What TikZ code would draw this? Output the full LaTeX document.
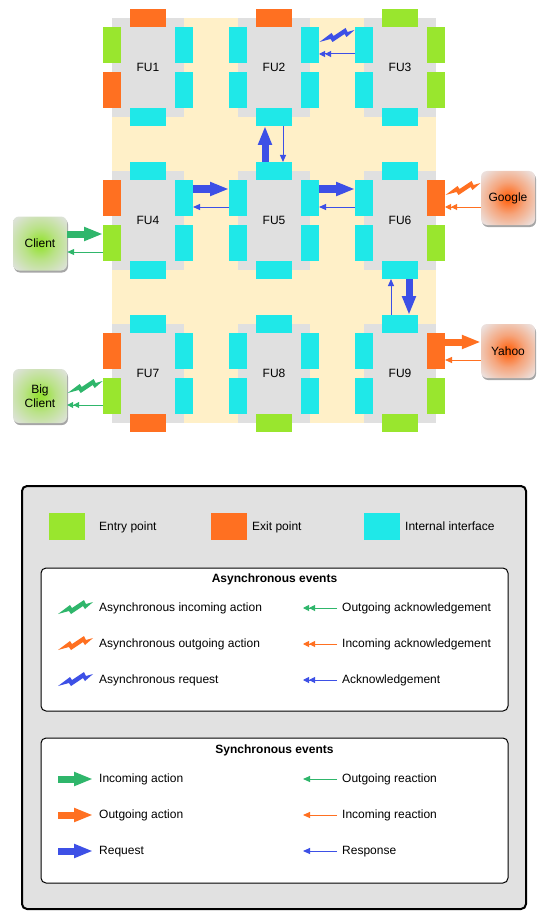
\documentclass[tikz,border=0pt]{standalone}
\usepackage{fontspec}
\setmainfont{Liberation Sans}
\usetikzlibrary{arrows.meta,shadows,calc}
\definecolor{cOrange}{HTML}{FF7021}
\definecolor{cGreen}{HTML}{99E62E}
\definecolor{cCyan}{HTML}{1FE8E8}
\definecolor{cGray}{HTML}{E0E0E0}
\definecolor{cYellow}{HTML}{FFF0C8}
\definecolor{legGray}{HTML}{E1E1E1}
\definecolor{aBlue}{HTML}{3D50E6}
\definecolor{aGreen}{HTML}{2FB66B}
\definecolor{aOrange}{HTML}{FF7021}
\definecolor{gIn}{HTML}{98E23A}
\definecolor{gOut}{HTML}{DCE2D6}
\definecolor{oIn}{HTML}{FF6A1C}
\definecolor{oOut}{HTML}{ECDFDB}
\colorlet{gMid}{gIn!50!gOut}
\colorlet{oMid}{oIn!50!oOut}
\pgfdeclareradialshading{glowG}{\pgfpoint{0bp}{0bp}}{color(0bp)=(gIn); color(3bp)=(gIn); color(15bp)=(gMid); color(32bp)=(gOut); color(50bp)=(gOut)}
\pgfdeclareradialshading{glowO}{\pgfpoint{0bp}{0bp}}{color(0bp)=(oIn); color(3bp)=(oIn); color(15bp)=(oMid); color(32bp)=(oOut); color(50bp)=(oOut)}
\newcommand\txtfont{\fontsize{12}{14}\selectfont}
\tikzset{
  pad/.style={inner sep=0pt, outer sep=0pt, draw=none},
  hpad/.style={pad, minimum width=36pt, minimum height=18pt},
  vpad/.style={pad, minimum width=18pt, minimum height=36pt},
  fubox/.style={fill=cGray, inner sep=0pt, outer sep=0pt, minimum width=72pt, minimum height=99pt},
  ext/.style={rounded corners=6pt, minimum width=54pt, minimum height=54pt, inner sep=0pt, align=center,
    drop shadow={shadow xshift=1pt, shadow yshift=-2pt, fill=black, opacity=0.35}},
  bigarrow/.style={line width=7pt, -{Triangle[length=19pt,width=13pt]}},
  thinarrow/.style={line width=1pt, -{Triangle[length=7pt,width=6pt]}},
  dblarrow/.style={line width=1pt, -{Triangle[length=6pt,width=6pt,sep=0pt]Triangle[length=6pt,width=6pt]}},
  lbl/.style={anchor=west, inner sep=0pt, text height=8.6pt, text depth=2.6pt},
  keybox/.style={inner sep=0pt, minimum width=36pt, minimum height=27pt},
  bolt/.pic={\fill (0,6) -- (12,-3) -- (14,0) -- (26,-8) -- (28,-4) -- (35,-6) -- (27,1) -- (25,-2) -- (13,6) -- (11,3) -- cycle;}
}
\newcommand\fuunit[9]{%
  \begin{scope}[shift={(#2,#3)}]
    \node[fubox] (#1) at (36,49.5) {#1};
    \node[hpad, fill=#4] (#1T) at (36,0) {};
    \node[hpad, fill=#9] (#1B) at (36,99) {};
    \node[vpad, fill=#5] (#1L1) at (0,27) {};
    \node[vpad, fill=#6] (#1L2) at (0,72) {};
    \node[vpad, fill=#7] (#1R1) at (72,27) {};
    \node[vpad, fill=#8] (#1R2) at (72,72) {};
  \end{scope}}
\begin{document}
\begin{tikzpicture}[x=1pt,y=-1pt, every node/.style={font=\txtfont}]
\useasboundingbox (0,0) rectangle (548,920);
\fill[cYellow] (112,18) rectangle (436,423);
\fuunit{FU1}{112}{18}{cOrange}{cGreen}{cOrange}{cCyan}{cCyan}{cCyan}
\fuunit{FU2}{238}{18}{cOrange}{cCyan}{cCyan}{cCyan}{cCyan}{cCyan}
\fuunit{FU3}{364}{18}{cGreen}{cCyan}{cCyan}{cGreen}{cGreen}{cCyan}
\fuunit{FU4}{112}{171}{cCyan}{cOrange}{cGreen}{cCyan}{cCyan}{cCyan}
\fuunit{FU5}{238}{171}{cCyan}{cCyan}{cCyan}{cCyan}{cCyan}{cCyan}
\fuunit{FU6}{364}{171}{cCyan}{cCyan}{cCyan}{cOrange}{cGreen}{cCyan}
\fuunit{FU7}{112}{324}{cCyan}{cOrange}{cGreen}{cCyan}{cCyan}{cOrange}
\fuunit{FU8}{238}{324}{cCyan}{cCyan}{cCyan}{cCyan}{cCyan}{cGreen}
\fuunit{FU9}{364}{324}{cCyan}{cCyan}{cCyan}{cOrange}{cGreen}{cGreen}

\node[ext, shading=glowG] (Client) at (40,243.5) {Client};
\node[ext, shading=glowG] (BigClient) at (40,396) {Big\\Client};
\node[ext, shading=glowO] (Google) at (508,198) {Google};
\node[ext, shading=glowO] (Yahoo) at (508,351) {Yahoo};

% FU2 - FU3
\coordinate (a23) at ($(FU3L1.north west)+(0,9)$);
\coordinate (b23) at ($(FU3L1.south west)+(0,-9)$);
\pic[color=aBlue] at ($(FU2R1.east |- a23)+(0.5,0)$) {bolt};
\draw[dblarrow, aBlue] (b23) -- (FU2R1.east |- b23);
% FU5 -> FU2
\coordinate (a52) at ($(FU5T.north west)+(9,0)$);
\coordinate (b52) at ($(FU2B.south west)+(27,0)$);
\draw[bigarrow, aBlue] (a52) -- (a52 |- FU2B.south);
\draw[thinarrow, aBlue] (b52) -- (b52 |- FU5T.north);
% FU4 -> FU5
\coordinate (a45) at ($(FU4R1.north east)+(0,9)$);
\coordinate (b45) at ($(FU4R1.south east)+(0,-9)$);
\draw[bigarrow, aBlue] (a45) -- (FU5L1.west |- a45);
\draw[thinarrow, aBlue] (FU5L1.west |- b45) -- (b45);
% FU5 -> FU6
\coordinate (a56) at ($(FU5R1.north east)+(0,9)$);
\coordinate (b56) at ($(FU5R1.south east)+(0,-9)$);
\draw[bigarrow, aBlue] (a56) -- (FU6L1.west |- a56);
\draw[thinarrow, aBlue] (FU6L1.west |- b56) -- (b56);
% FU6 -> FU9
\coordinate (a69) at ($(FU6B.south west)+(27,0)$);
\coordinate (b69) at ($(FU9T.north west)+(9,0)$);
\draw[bigarrow, aBlue] (a69) -- (a69 |- FU9T.north);
\draw[thinarrow, aBlue] (b69) -- (b69 |- FU6B.south);
% Google
\coordinate (ag) at ($(FU6R1.north east)+(0,9)$);
\coordinate (bg) at ($(FU6R1.south east)+(0,-9)$);
\pic[color=aOrange] at ($(ag)+(0.5,0)$) {bolt};
\draw[dblarrow, aOrange] (Google.west |- bg) -- (bg);
% Yahoo
\coordinate (ay) at ($(FU9R1.north east)+(0,9)$);
\coordinate (by) at ($(FU9R1.south east)+(0,-9)$);
\draw[bigarrow, aOrange] (ay) -- (Yahoo.west |- ay);
\draw[thinarrow, aOrange] (Yahoo.west |- by) -- (by);
% Client
\coordinate (ac) at ($(FU4L2.north west)+(0,9)$);
\coordinate (bc) at ($(FU4L2.south west)+(0,-9)$);
\draw[bigarrow, aGreen] (Client.east |- ac) -- (ac);
\draw[thinarrow, aGreen] (bc) -- (Client.east |- bc);
% Big Client
\coordinate (abc) at ($(FU7L2.north west)+(0,9)$);
\coordinate (bbc) at ($(FU7L2.south west)+(0,-9)$);
\pic[color=aGreen] at ($(BigClient.east |- abc)+(0.5,0)$) {bolt};
\draw[dblarrow, aGreen] (bbc) -- (BigClient.east |- bbc);

% Legend
\draw[line width=2pt, fill=legGray, rounded corners=5pt] (22,486) rectangle (526,909);
\node[keybox, fill=cGreen] (kEntry) at (67,526.5) {};
\node[lbl] (tEntry) at (99,527) {Entry point};
\node[keybox, fill=cOrange] (kExit) at (229,526.5) {};
\node[lbl] (tExit) at (252,527) {Exit point};
\node[keybox, fill=cCyan] (kInt) at (382,526.5) {};
\node[lbl] (tInt) at (405,527) {Internal interface};

\draw[line width=1pt, fill=white, rounded corners=5pt] (41,568) rectangle (508,711);
\node[font=\txtfont\bfseries] (tAsync) at (274.5,579) {Asynchronous events};
\node[lbl] (tAIA) at (99,608) {Asynchronous incoming action};
\pic[color=aGreen] at ([xshift=-41pt]tAIA.west) {bolt};
\node[lbl] (tAOA) at (99,644) {Asynchronous outgoing action};
\pic[color=aOrange] at ([xshift=-41pt]tAOA.west) {bolt};
\node[lbl] (tAR) at (99,680) {Asynchronous request};
\pic[color=aBlue] at ([xshift=-41pt]tAR.west) {bolt};
\node[lbl] (tOAck) at (342,608) {Outgoing acknowledgement};
\draw[dblarrow, aGreen] ([xshift=-5pt]tOAck.west) -- ([xshift=-39pt]tOAck.west);
\node[lbl] (tIAck) at (342,644) {Incoming acknowledgement};
\draw[dblarrow, aOrange] ([xshift=-5pt]tIAck.west) -- ([xshift=-39pt]tIAck.west);
\node[lbl] (tAck) at (342,680) {Acknowledgement};
\draw[dblarrow, aBlue] ([xshift=-5pt]tAck.west) -- ([xshift=-39pt]tAck.west);

\draw[line width=1pt, fill=white, rounded corners=5pt] (41,738) rectangle (508,883);
\node[font=\txtfont\bfseries] (tSync) at (274.5,750) {Synchronous events};
\node[lbl] (tIA) at (99,779) {Incoming action};
\draw[bigarrow, aGreen] ([xshift=-41pt]tIA.west) -- ([xshift=-6pt]tIA.west);
\node[lbl] (tOA) at (99,815) {Outgoing action};
\draw[bigarrow, aOrange] ([xshift=-41pt]tOA.west) -- ([xshift=-6pt]tOA.west);
\node[lbl] (tReq) at (99,851) {Request};
\draw[bigarrow, aBlue] ([xshift=-41pt]tReq.west) -- ([xshift=-6pt]tReq.west);
\node[lbl] (tORe) at (342,779) {Outgoing reaction};
\draw[thinarrow, aGreen] ([xshift=-5pt]tORe.west) -- ([xshift=-39pt]tORe.west);
\node[lbl] (tIRe) at (342,815) {Incoming reaction};
\draw[thinarrow, aOrange] ([xshift=-5pt]tIRe.west) -- ([xshift=-39pt]tIRe.west);
\node[lbl] (tResp) at (342,851) {Response};
\draw[thinarrow, aBlue] ([xshift=-5pt]tResp.west) -- ([xshift=-39pt]tResp.west);
\end{tikzpicture}
\end{document}
